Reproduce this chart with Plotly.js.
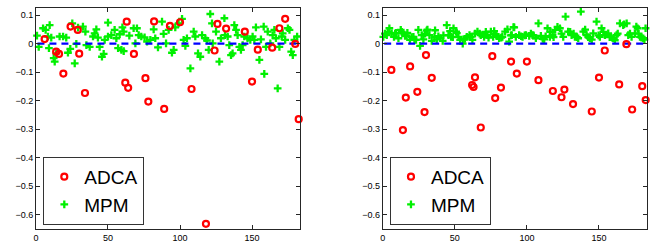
<!DOCTYPE html>
<html>
<head>
<meta charset="utf-8">
<script src="https://cdn.plot.ly/plotly-3.0.1.min.js"></script>
<style>html,body{margin:0;padding:0;background:#fff;}#chart{width:664px;height:249px;}</style>
</head>
<body>
<div id="chart"></div>
<script>
// ADCA sample positions (shared by both panels)
const adcaX = [6,14,16,19,24,29,30,34,62,63,64,68,76,78,82,89,93,100,108,118,124,126,132,145,150,154,164,169,173,180,182.4];
const adcaLeft = [0.016,-0.028,-0.036,-0.105,0.060,0.048,-0.035,-0.173,-0.137,0.077,-0.155,-0.036,-0.121,-0.203,0.078,-0.229,0.062,0.075,-0.159,-0.632,-0.024,0.069,0.053,0.042,-0.133,-0.021,-0.014,0.054,0.087,-0.001,-0.265];
const adcaRight = [-0.092,-0.303,-0.189,-0.080,-0.169,-0.240,-0.040,-0.120,-0.145,-0.152,-0.118,-0.294,-0.044,-0.191,-0.154,-0.063,-0.105,-0.063,-0.128,-0.166,-0.188,-0.161,-0.212,-0.238,-0.119,-0.024,-0.143,-0.002,-0.231,-0.149,-0.198];

// MPM left panel
const mpmLeftX = [0.7,1.9,4.9,6.7,9.5,8.3,9,10.6,12.3,13,14.1,16.4,18.8,21,22.2,25.2,23.8,26.9,28,29.2,32.6,34.3,35,37.3,39.6,40.7,41.9,43,44.2,45.8,47,47.7,50,50,52.3,54.6,55.8,57,58.1,59.3,60,
  60.9,60.9,64.8,67.8,70.1,69,71.3,73.1,75.4,77.1,79.4,81.7,82.8,84.7,87.5,88.6,90.3,92.1,94.4,95.6,96.7,99,101.4,102.5,103.7,104.8,107.2,109.5,110.6,112.5,114.1,115.3,117.6,118.7,121,122.2,119.9,
  122.7,125,127.3,128.4,130.8,131.2,133.1,134.2,135.4,136.5,137.7,138.9,140,141.2,142.3,143.5,144.6,146.9,148.8,150.4,151.6,152.7,155.1,156.2,158.1,158.5,159.7,160.9,162.7,164.3,165.5,166.6,167.8,169,170.6,171.3,173,174.9,176,177.2,178.3,179.4,181.3];
const mpmLeftY = [0.028,-0.011,0.054,0.048,0.065,0.025,-0.016,0.021,-0.051,-0.063,-0.034,0.025,0.025,0.021,-0.032,0.071,-0.018,-0.069,-0.001,0.056,0.060,0.042,-0.005,-0.011,0.025,0.036,0.050,0.021,-0.011,-0.046,-0.036,0.013,0.074,0.025,0.030,0.048,0.019,-0.016,0.033,-0.022,0.057,
  0.042,-0.026,0.028,0.054,0.054,0.001,0.030,0.025,0.022,0.007,0.013,0.050,0.019,-0.013,0.077,0.034,0.001,0.048,-0.032,-0.022,0.057,0.071,0.087,0.013,-0.008,0.019,-0.087,0.042,0.025,-0.034,-0.046,0.030,0.019,0.011,0.104,0.071,-0.022,
  0.001,0.042,-0.063,0.019,0.089,0.030,0.025,-0.005,-0.040,-0.034,0.065,0.048,0.030,-0.011,-0.022,-0.005,0.025,0.019,0.013,0.025,0.013,0.057,-0.057,0.015,0.060,-0.106,-0.011,0.042,0.001,0.030,0.048,0.019,-0.157,-0.011,0.025,0.036,0.013,0.054,0.048,-0.028,-0.040,0.013,0.025];

// MPM right panel
const mpmRightX = [0.4,2.8,4.6,6.2,7.8,9.2,10.9,12.5,13.9,15.5,17.1,18.9,21.3,23.1,24.7,25.9,27,28.2,30.5,32.4,34,35.9,37.5,39.8,41.6,44.4,45.6,47.4,49.1,50.9,52.5,53.7,56,58.3,60.2,
  61,62.2,65.7,68,70.3,72.6,75,76.6,78.4,80.7,83,84.9,86.5,87.7,89.5,91.2,92.3,94.6,97,99.3,101.6,103.9,106.2,108,109.7,112,114.3,115.9,117.8,119.6,121.2,
  122.9,126.8,125.2,128.6,131,133.3,137.4,135.6,139.1,141.4,143.7,146,148.3,150.6,151.8,154.1,156.4,158.3,159.9,162.2,164.5,166.8,169.2,170.3,172.6,174.9,176.8,178.4,180.7,182.3,
  1.5,3.5,8.6,13.2,16.6,20.1,22,29.4,31,36.3,38.6,42.1,46.7,48.6,51.4,55.5,57,64,67.2,71.5,73.4,77.3,79.2,82.2,88.9,90.7,96,98.5,102.8,104.6,111,113,116.2,118.5,124,130,132.4,134.7,140.4,142.5,145,149.7,153,157.4,161,163,167.5,171.5,175.9,177.5,179.5,181.5];
const mpmRightY = [0.024,0.030,0.054,0.036,0.024,0.038,0.019,0.048,0.036,0.027,0.038,0.013,0.024,0.013,0.048,-0.008,0.030,0.015,0.046,0.030,0.010,0.024,0.015,0.019,0.010,0.065,0.030,0.024,0.054,0.042,0.024,0.013,0.015,0.024,0.030,
  0.024,0.013,0.042,0.030,0.024,0.030,0.042,0.024,0.033,0.019,0.024,0.042,0.050,0.007,0.030,0.057,0.024,0.030,0.024,0.030,0.027,0.030,0.019,0.071,0.027,0.015,0.054,0.024,0.030,0.048,0.059,
  0.054,0.095,0.024,0.042,0.030,0.024,0.112,0.019,0.042,0.030,0.019,0.036,0.077,0.024,0.054,0.030,0.036,0.024,0.019,0.030,0.071,0.065,0.071,0.030,0.024,0.036,0.054,0.024,0.019,0.054,
  0.035,0.041,0.035,0.041,0.029,0.023,0.014,0.035,0.049,0.047,0.026,0.029,0.044,0.023,0.037,0.000,0.017,0.035,0.035,0.041,0.021,0.044,0.026,0.021,0.029,0.058,0.026,0.029,0.035,0.029,0.017,0.026,0.041,0.023,0.035,0.041,0.035,0.023,0.049,0.023,0.014,0.029,0.041,0.023,0.012,0.035,0.068,0.035,0.060,0.035,0.021,0.014];

// reference line
const refX = [1,181];
const refY = [0,0];

const RED = '#ff0000', GREEN = '#00f000', BLUE = '#0000ff';
const FONT = 'Liberation Sans, Arial, Helvetica, sans-serif';

function panel(n) {
  const xa = n === 1 ? 'x' : 'x2', ya = n === 1 ? 'y' : 'y2';
  const lg = n === 1 ? 'legend' : 'legend2';
  return [
    {x: n === 1 ? mpmLeftX : mpmRightX, y: n === 1 ? mpmLeftY : mpmRightY, type: 'scatter', mode: 'markers',
     name: 'MPM', xaxis: xa, yaxis: ya, legend: lg, legendrank: 2, cliponaxis: false,
     marker: {symbol: 'cross-thin-open', size: 5.5, color: GREEN, line: {color: GREEN, width: 2.3}}},
    {x: refX, y: refY, type: 'scatter', mode: 'lines', showlegend: false, xaxis: xa, yaxis: ya, legend: lg,
     line: {color: BLUE, width: 2.2, dash: '7px,5px'}, hoverinfo: 'skip'},
    {x: adcaX, y: n === 1 ? adcaLeft : adcaRight, type: 'scatter', mode: 'markers',
     name: 'ADCA', xaxis: xa, yaxis: ya, legend: lg, legendrank: 1, cliponaxis: false,
     marker: {symbol: 'circle-open', size: 6, color: RED, line: {color: RED, width: 2.2}}}
  ];
}

const xTicks = [0,50,100,150];
function xax(dom, anchor) {
  return {domain: dom, anchor: anchor, range: [0,183.3], tickvals: xTicks, ticks: 'inside', ticklen: 4,
    tickcolor: '#262626', mirror: 'ticks', showline: true, linecolor: '#262626', linewidth: 1,
    showgrid: false, zeroline: false, tickfont: {size: 9, color: '#000', family: FONT}};
}
function yax(dom, anchor) {
  return {domain: dom, anchor: anchor, range: [-0.65,0.124], tick0: 0, dtick: 0.1, ticks: 'inside', ticklen: 4,
    tickcolor: '#262626', mirror: 'ticks', showline: true, linecolor: '#262626', linewidth: 1,
    showgrid: false, zeroline: false, tickfont: {size: 9, color: '#000', family: FONT}};
}
const legStyle = (x) => ({x: x, y: 0.097, xanchor: 'left', yanchor: 'bottom', bgcolor: '#fff',
  bordercolor: '#333', borderwidth: 1, font: {size: 19, color: '#000', family: FONT}, traceorder: 'normal'});

const layout = {
  width: 664, height: 249, margin: {l: 0, r: 0, t: 0, b: 0},
  paper_bgcolor: '#fff', plot_bgcolor: '#fff', font: {family: FONT},
  xaxis: xax([0.0542,0.4518], 'y'), yaxis: yax([0.0803,0.9667], 'x'),
  xaxis2: xax([0.5764,0.9744], 'y2'), yaxis2: yax([0.0803,0.9667], 'x2'),
  legend: legStyle(0.0652), legend2: legStyle(0.5873)
};

Plotly.newPlot('chart', panel(1).concat(panel(2)), layout, {staticPlot: true, displayModeBar: false});
</script>
</body>
</html>
